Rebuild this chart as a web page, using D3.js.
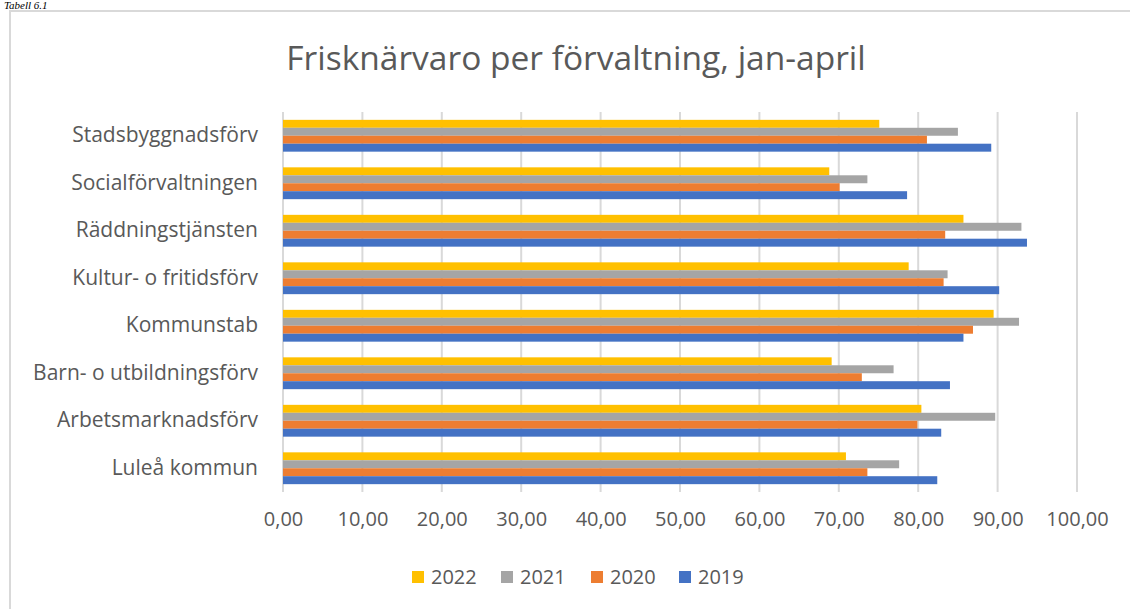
<!DOCTYPE html>
<html>
<head>
<meta charset="utf-8">
<script src="https://cdn.jsdelivr.net/npm/d3@7"></script>
<style>
  body { margin: 0; background: #fff; }
  svg text { font-family: "Open Sans", "Noto Sans", sans-serif; fill: #595959; }
</style>
</head>
<body>
<div id="chart"></div>
<script>
'use strict';

// categories bottom to top, as in the sheet
const categories = ['Luleå kommun', 'Arbetsmarknadsförv', 'Barn- o utbildningsförv', 'Kommunstab',
  'Kultur- o fritidsförv', 'Räddningstjänsten', 'Socialförvaltningen', 'Stadsbyggnadsförv'];
const years = ['2022', '2021', '2020', '2019'];
const colors = ['#ffc000', '#a5a5a5', '#ed7d31', '#4472c4'];

const v2022 = [70.9, 80.4, 69.1, 89.5, 78.8, 85.7, 68.8, 75.1];
const v2021 = [77.6, 89.7, 76.9, 92.7, 83.7, 93.0, 73.6, 85.0];
const v2020 = [73.6, 79.9, 72.9, 86.9, 83.2, 83.4, 70.1, 81.1];
const v2019 = [82.4, 82.9, 84.0, 85.7, 90.2, 93.7, 78.6, 89.2];
const xTicks = [0, 10, 20, 30, 40, 50, 60, 70, 80, 90, 100];

const series = [v2022, v2021, v2020, v2019];

const W = 1130, H = 609;
const margin = {top: 112, right: 53, bottom: 117, left: 283};
const width = W - margin.left - margin.right,
  height = H - margin.top - margin.bottom;

const svg = d3.select('#chart').append('svg')
  .attr('width', W)
  .attr('height', H);

// caption above the frame
svg.append('text')
  .attr('x', 4).attr('y', 9)
  .style('font-family', '"Liberation Serif", serif')
  .style('font-style', 'italic')
  .style('font-size', '11px')
  .style('fill', '#000')
  .text('Tabell 6.1');

// chart frame
svg.append('rect')
  .attr('x', 10).attr('y', 11)
  .attr('width', W + 20).attr('height', H + 20)
  .attr('fill', 'none')
  .attr('stroke', '#d9d9d9')
  .attr('stroke-width', 2);

svg.append('text')
  .attr('x', 576).attr('y', 70)
  .attr('text-anchor', 'middle')
  .style('font-size', '33.5px')
  .text('Frisknärvaro per förvaltning, jan-april');

const g = svg.append('g').attr('transform', 'translate(' + margin.left + ',' + margin.top + ')');

const xScale = d3.scaleLinear().domain([0, 100]).range([0, width]);

// reversed so first category sits at the bottom
const yScale = d3.scaleBand()
  .domain(categories.slice().reverse())
  .range([0, height])
  .paddingInner(0.33)
  .paddingOuter(0.165);

const ySub = d3.scaleBand().domain(years).range([0, yScale.bandwidth()]);

// gridlines
g.append('g')
  .selectAll('line')
  .data(xTicks)
  .join('line')
  .attr('x1', d => xScale(d)).attr('x2', d => xScale(d))
  .attr('y1', 0).attr('y2', height)
  .attr('stroke', '#d9d9d9')
  .attr('stroke-width', 2);

// bars
const groups = g.append('g')
  .selectAll('g')
  .data(categories)
  .join('g')
  .attr('transform', d => 'translate(0,' + yScale(d) + ')');

groups.selectAll('rect')
  .data((d, i) => series.map((s, k) => ({year: years[k], value: s[i], color: colors[k]})))
  .join('rect')
  .attr('x', 0)
  .attr('y', d => ySub(d.year))
  .attr('width', d => xScale(d.value))
  .attr('height', ySub.bandwidth())
  .attr('fill', d => d.color);

// y axis labels
const yAxis = g.append('g')
  .call(d3.axisLeft(yScale).tickSize(0).tickPadding(25));
yAxis.select('.domain').remove();
yAxis.selectAll('text')
  .attr('dy', '0.3em')
  .style('font-size', '21px')
  .style('fill', '#595959')
  .style('font-family', '"Open Sans", "Noto Sans", sans-serif');

// x axis labels
const xAxis = g.append('g')
  .attr('transform', 'translate(0,' + height + ')')
  .call(d3.axisBottom(xScale).tickValues(xTicks).tickSize(0).tickPadding(20)
    .tickFormat(d => d3.format('.2f')(d).replace('.', ',')));
xAxis.select('.domain').remove();
xAxis.selectAll('text')
  .style('font-size', '20px')
  .style('fill', '#595959')
  .style('font-family', '"Open Sans", "Noto Sans", sans-serif');

// legend
const legendX = [412, 501, 591, 679];
const legend = svg.append('g')
  .selectAll('g')
  .data(years)
  .join('g')
  .attr('transform', (d, i) => 'translate(' + legendX[i] + ',577)');

legend.append('rect')
  .attr('x', 0).attr('y', -6)
  .attr('width', 12).attr('height', 12)
  .attr('fill', (d, i) => colors[i]);

legend.append('text')
  .attr('x', 19).attr('y', 7)
  .style('font-size', '20px')
  .text(d => d);
</script>
</body>
</html>
